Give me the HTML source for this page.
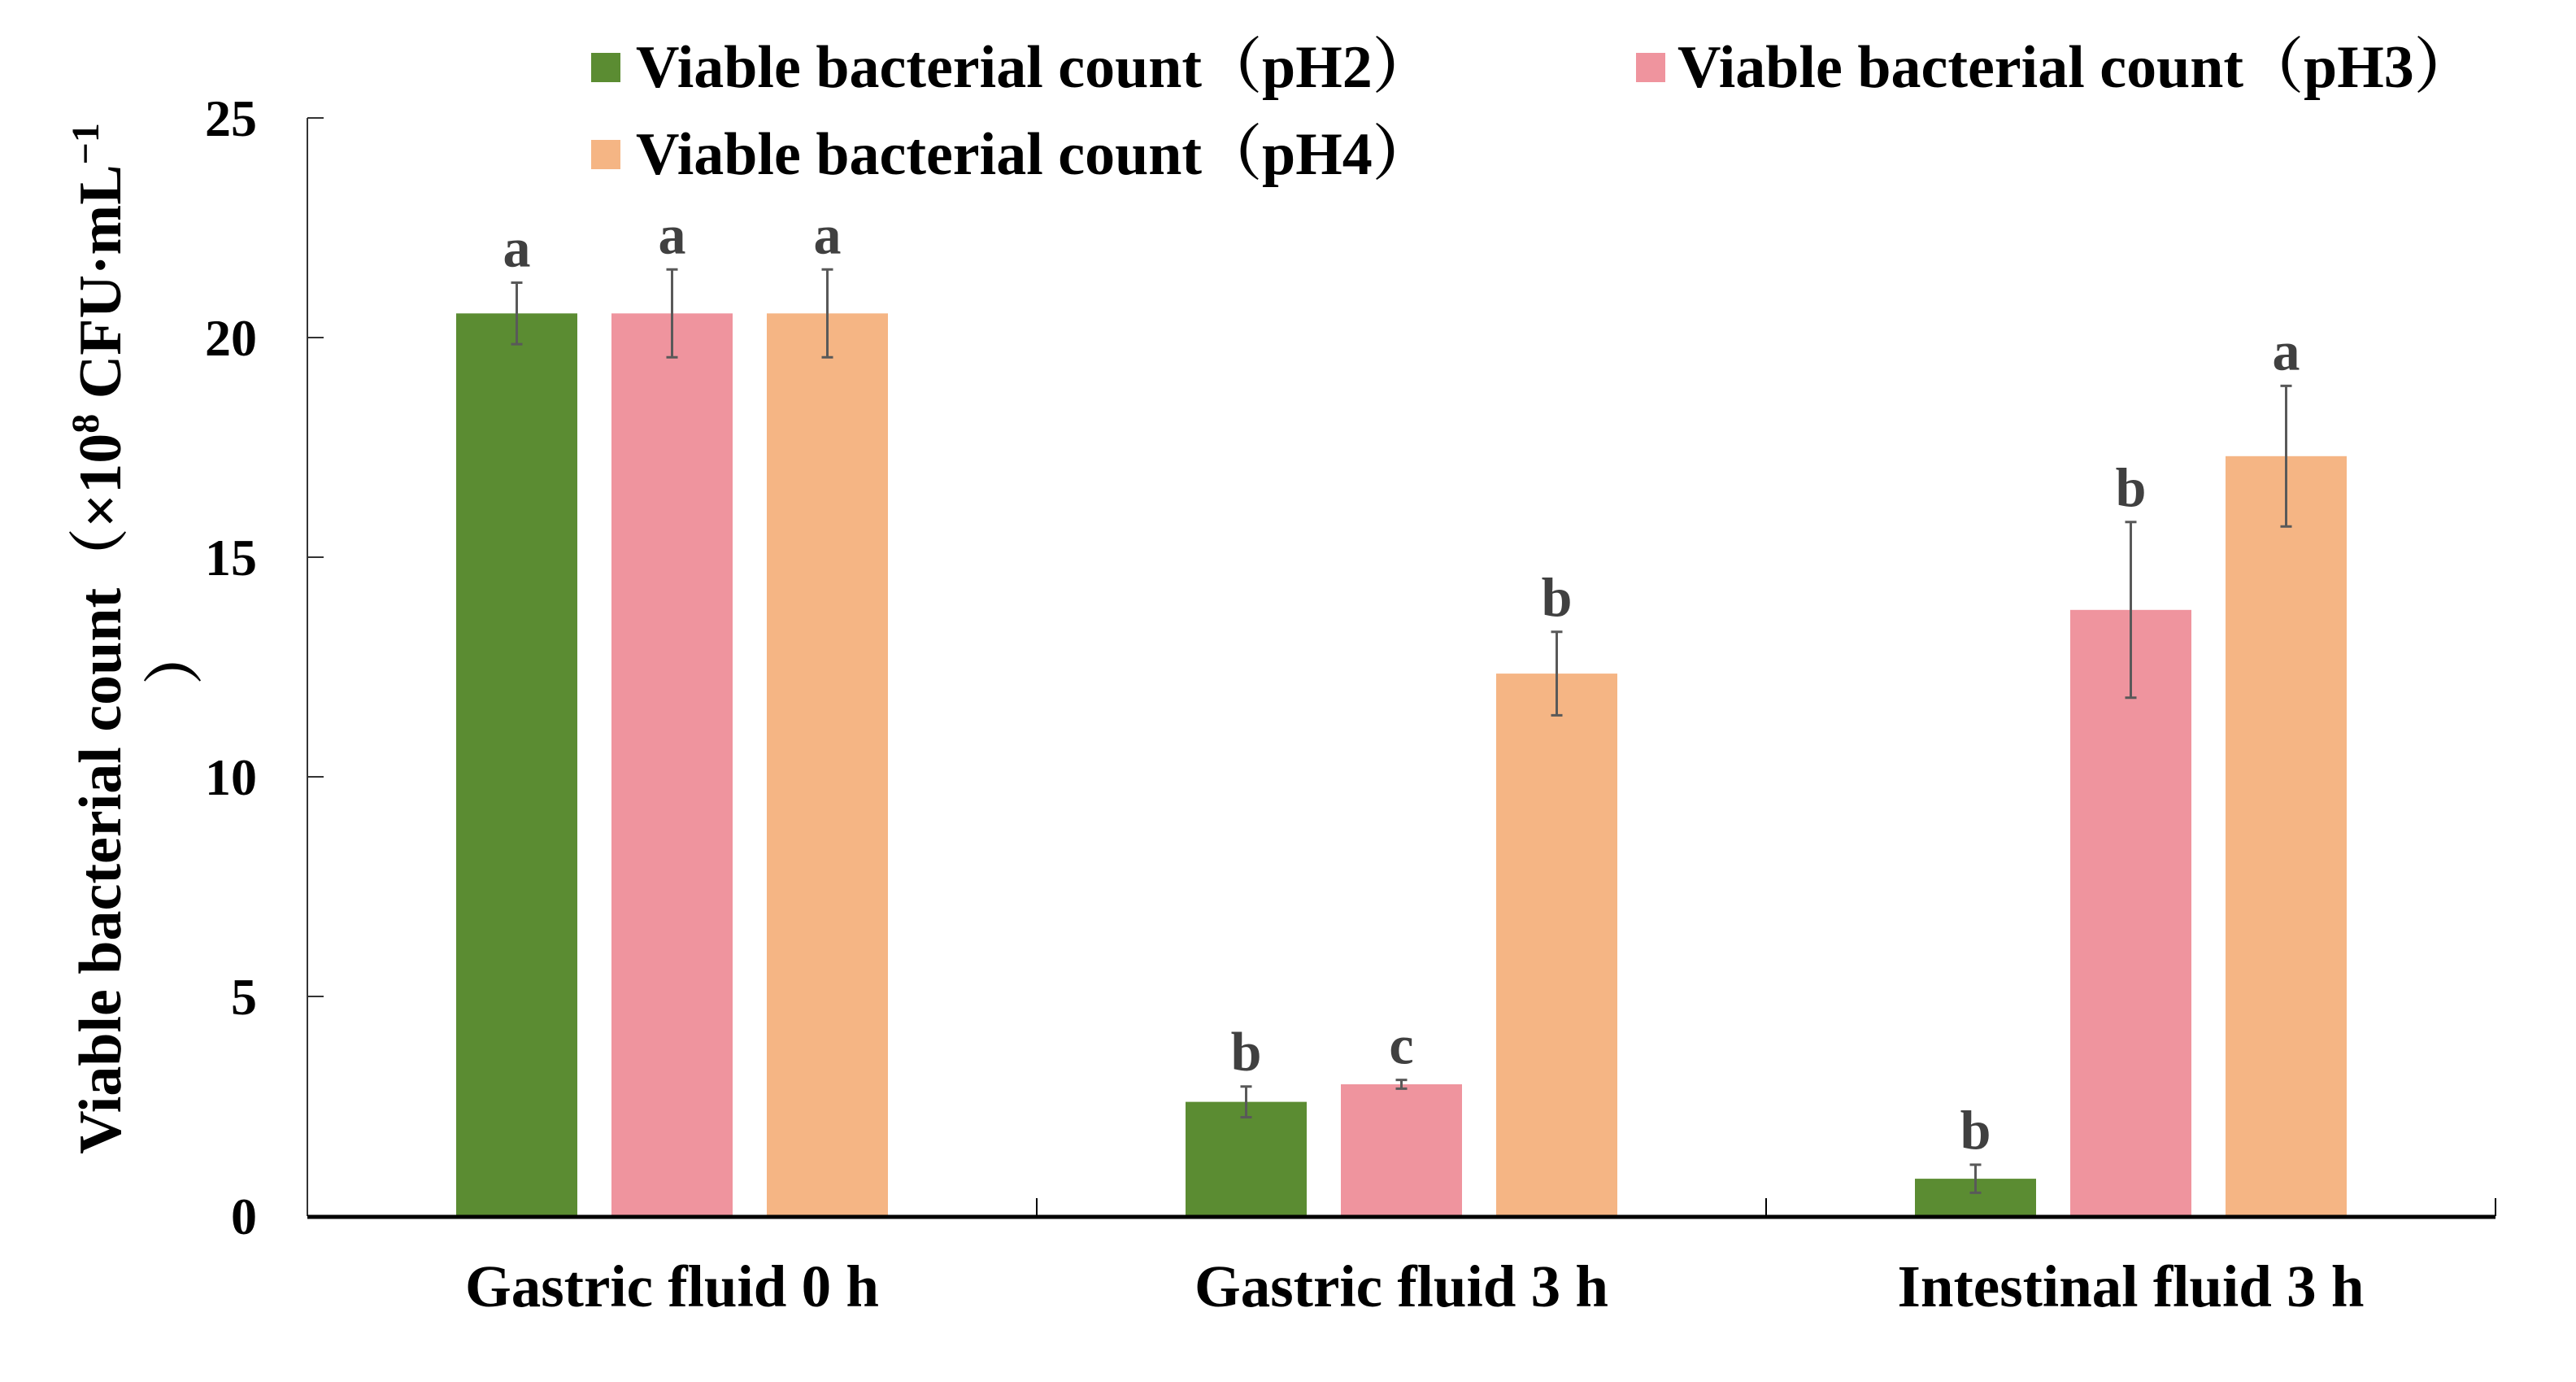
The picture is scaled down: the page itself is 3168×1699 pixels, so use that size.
<!DOCTYPE html>
<html><head><meta charset="utf-8"><style>
html,body{margin:0;padding:0;background:#fff;}
svg{display:block;}
text{font-family:"Liberation Serif","Noto Serif CJK SC",serif;font-weight:bold;}
</style></head><body>
<svg id="chart" width="3168" height="1699" viewBox="0 0 3168 1699" xmlns="http://www.w3.org/2000/svg">
<g id="plot"></g>
<text transform="translate(148,785) rotate(-90)" text-anchor="middle" font-size="74" fill="#000">Viable bacterial count（×10<tspan dy="-27" font-size="48">8</tspan><tspan dy="27"> CFU·mL</tspan><tspan dy="-27" font-size="48">−1</tspan></text>
<text transform="translate(240,805) rotate(-90)" text-anchor="middle" font-size="74" fill="#000">）</text>
<g>
<rect x="727" y="65" width="36" height="36" fill="#5b8c32"/>
<text x="782" y="107" font-size="74">Viable bacterial count（pH2）</text>
<rect x="2012" y="65" width="36" height="36" fill="#ef949e"/>
<text x="2063" y="107" font-size="74">Viable bacterial count（pH3）</text>
<rect x="727" y="172" width="36" height="36" fill="#f5b584"/>
<text x="782" y="214" font-size="74">Viable bacterial count（pH4）</text>
</g>
</svg>
<script>
const categories = ["Gastric fluid 0 h","Gastric fluid 3 h","Intestinal fluid 3 h"];
const seriesNames = ["pH2","pH3","pH4"];
const ph2 = [20.55, 2.6, 0.85];
const ph3 = [20.55, 3.0, 13.8];
const ph4 = [20.55, 12.35, 17.3];
const ph2Err = [0.7, 0.35, 0.32];
const ph3Err = [1.0, 0.1, 2.0];
const ph4Err = [1.0, 0.95, 1.6];
const ph2Letters = ["a","b","b"];
const ph3Letters = ["a","c","b"];
const ph4Letters = ["a","b","a"];
const yTicks = [0,5,10,15,20,25];

const NS="http://www.w3.org/2000/svg";
const plot=document.getElementById('plot');
const X0=378,X1=3069,Y0=1495,YT=145,YMAX=25;
const groupW=(X1-X0)/categories.length;
function y(v){return Y0-(v/YMAX)*(Y0-YT);}
function gx(i){return X0+groupW*(i+0.5);}
function mk(tag,attrs){const e=document.createElementNS(NS,tag);for(const k in attrs)e.setAttribute(k,attrs[k]);plot.appendChild(e);return e;}

const series=[ph2,ph3,ph4], errs=[ph2Err,ph3Err,ph4Err], letters=[ph2Letters,ph3Letters,ph4Letters];
const colors=["#5b8c32","#ef949e","#f5b584"];
const barW=149, step=191;
categories.forEach((c,i)=>{
  series.forEach((s,j)=>{
    const cx=gx(i)+(j-1)*step;
    const b=mk('rect',{x:cx-barW/2,y:y(s[i]),width:barW,height:Y0-y(s[i]),fill:colors[j]});
    
    
    const e=errs[j][i];
    const eb=mk('path',{d:`M${cx},${y(s[i]+e)}V${y(s[i]-e)}M${cx-7},${y(s[i]+e)}H${cx+7}M${cx-7},${y(s[i]-e)}H${cx+7}`,stroke:'#595959','stroke-width':3,fill:'none'});
    
    
    const t=mk('text',{x:cx,y:y(s[i]+e)-20,'text-anchor':'middle','font-size':68,fill:'#404040'});
    t.textContent=letters[j][i];
    
    
  });
  const lab=mk('text',{x:gx(i),y:1606,'text-anchor':'middle','font-size':73,fill:'#000'});
  lab.textContent=c;
  
  
  const tk=mk('line',{x1:X0+groupW*(i+1),x2:X0+groupW*(i+1),y1:Y0,y2:Y0-22,stroke:'#000','stroke-width':2});
  
  
});
const ya=mk('line',{x1:X0,x2:X0,y1:YT,y2:Y0,stroke:'#333','stroke-width':2});


yTicks.forEach(v=>{
  const l=mk('line',{x1:X0,x2:X0+20,y1:y(v),y2:y(v),stroke:'#333','stroke-width':2});
  
  
  const t=mk('text',{x:316,y:y(v)+22,'text-anchor':'end','font-size':64,fill:'#000'});
  t.textContent=v;
  
  
});
const xa=mk('line',{x1:X0,x2:X1,y1:Y0+1,y2:Y0+1,stroke:'#000','stroke-width':5});


</script>
</body></html>
